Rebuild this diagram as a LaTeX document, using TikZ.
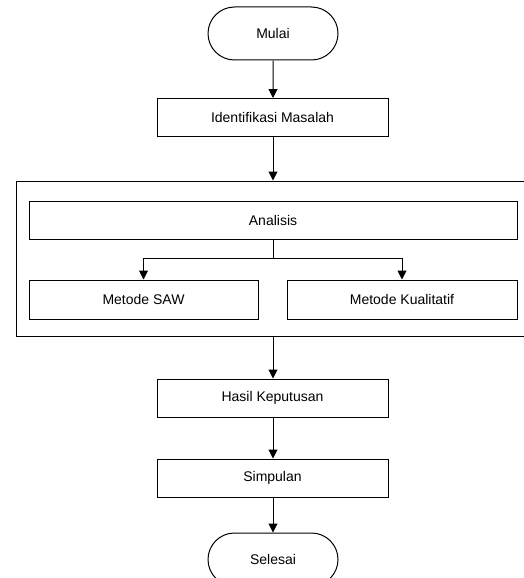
\documentclass[tikz,border=0pt]{standalone}
\usepackage{fontspec}
\setmainfont{Liberation Sans}
\usetikzlibrary{arrows.meta,shapes.misc}

\begin{document}
\begin{tikzpicture}[x=1pt,y=-1pt,line width=1pt,
    font=\fontsize{14}{16}\selectfont,
    arr/.style={-{Triangle[width=9pt,length=9pt]}},
    prosesbox/.style={draw,rectangle,inner sep=0pt,minimum width=231pt,minimum height=38pt},
    terminal/.style={draw,rounded rectangle,inner sep=0pt,minimum width=130pt,minimum height=53pt}]
            \useasboundingbox (0,0) rectangle (524,578);
            \node[terminal] (mulai) at (273,33.5){Mulai};
            \node[prosesbox] (ident) at (272.5,117.5){Identifikasi Masalah};
            \node[draw,rectangle,inner sep=0pt,minimum width=509pt,minimum height=155pt] (frame) at (270.5,258.5){};
            \node[prosesbox,minimum width=488pt] (analisis) at (273,220){Analisis};
            \node[prosesbox,minimum width=229pt,minimum height=39pt] (saw) at (143.5,299.5){Metode SAW};
            \node[prosesbox,minimum width=230pt,minimum height=39pt] (kual) at (402,299.5){Metode Kualitatif};
            \node[prosesbox] (hasil) at (272.5,398){Hasil Keputusan};
            \node[prosesbox] (simpulan) at (272.5,478){Simpulan};
            \node[terminal] (selesai) at (273,559.5){Selesai};
            \coordinate (cabang) at (273,258);
            \draw[arr] (mulai) -- (mulai |- ident.north);
            \draw[arr] (ident.south -| mulai) -- (mulai |- frame.north);
            \draw (analisis.south -| cabang) -- (cabang);
            \foreach \x in {saw,kual}{
                \draw[arr] (cabang) -| (\x.north);
            }
            \draw[arr] (frame.south -| mulai) -- (mulai |- hasil.north);
            \foreach \a/\b in {hasil/simpulan,simpulan/selesai}{
                \draw[arr] (\a.south -| mulai) -- (mulai |- \b.north);
            }
\end{tikzpicture}
\end{document}
